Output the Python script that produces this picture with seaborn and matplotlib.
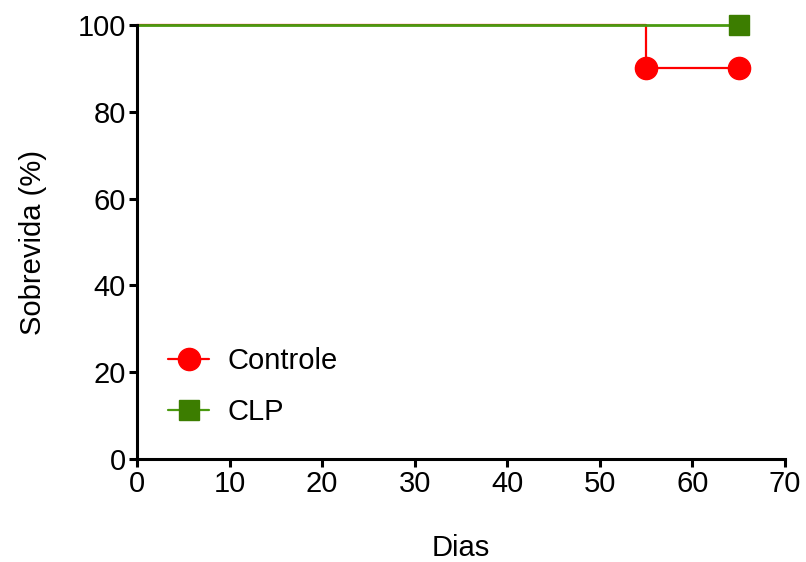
import numpy as np
import pandas as pd
import matplotlib
matplotlib.use('Agg')
import matplotlib.pyplot as plt
from matplotlib.lines import Line2D
import seaborn as sns

# survival curves (Kaplan-Meier steps)
controle_t = [0, 55, 65]
controle_s = [100, 90, 90]
clp_t = [0, 65]
clp_s = [100, 100]

# marker points (events / censoring)
controle_mark_t = [55, 65]
controle_mark_s = [90, 90]
clp_mark_t = [65]
clp_mark_s = [100]

red = '#FF0000'
green = '#3C7D00'
green_line = '#4A9A10'

sns.set_style('ticks')
plt.rcParams['font.family'] = ['Liberation Sans', 'DejaVu Sans']
plt.rcParams['text.color'] = 'black'
plt.rcParams['axes.labelcolor'] = 'black'

fig = plt.figure(figsize=(8.06, 5.62), dpi=100)
ax = fig.add_axes([0.170, 0.183, 0.804, 0.7725])

df_c = pd.DataFrame({'t': controle_t, 's': controle_s})
df_p = pd.DataFrame({'t': clp_t, 's': clp_s})

sns.lineplot(data=df_c, x='t', y='s', ax=ax, color=red, lw=1.6,
             drawstyle='steps-post', estimator=None, sort=False, zorder=2,
             clip_on=False)
sns.lineplot(data=df_p, x='t', y='s', ax=ax, color=green_line, lw=2.0,
             drawstyle='steps-post', estimator=None, sort=False, zorder=3,
             clip_on=False)

ax.plot(controle_mark_t, controle_mark_s, ls='none', marker='o', ms=16,
        color=red, mec=red, clip_on=False, zorder=4)
ax.plot(clp_mark_t, clp_mark_s, ls='none', marker='s', ms=14,
        color=green, mec=green, clip_on=False, zorder=5)

ax.set_xlim(0, 70)
ax.set_ylim(0, 100)
ax.set_xticks(np.arange(0, 71, 10))
ax.set_yticks(np.arange(0, 101, 20))

for s in ['top', 'right']:
    ax.spines[s].set_visible(False)
for s in ['left', 'bottom']:
    ax.spines[s].set_linewidth(2.2)
    ax.spines[s].set_color('black')
    ax.spines[s].set_zorder(6)

ax.tick_params(axis='both', direction='out', length=6, width=2.2,
               labelsize=21, colors='black', pad=2)

ax.set_xlabel('Dias', fontsize=21, labelpad=26)
ax.set_ylabel('Sobrevida (%)', fontsize=21, labelpad=22)

handles = [
    Line2D([], [], color=red, lw=1.6, marker='o', ms=16, mec=red),
    Line2D([], [], color=green_line, lw=1.6, marker='s', ms=14,
           mfc=green, mec=green),
]
ax.legend(handles, ['Controle', 'CLP'], loc='lower left',
          bbox_to_anchor=(0.048, 0.076), borderpad=0, borderaxespad=0,
          frameon=False, fontsize=21, handlelength=1.4,
          handletextpad=0.65, labelspacing=0.8)

fig.savefig('out.png', dpi=100)
